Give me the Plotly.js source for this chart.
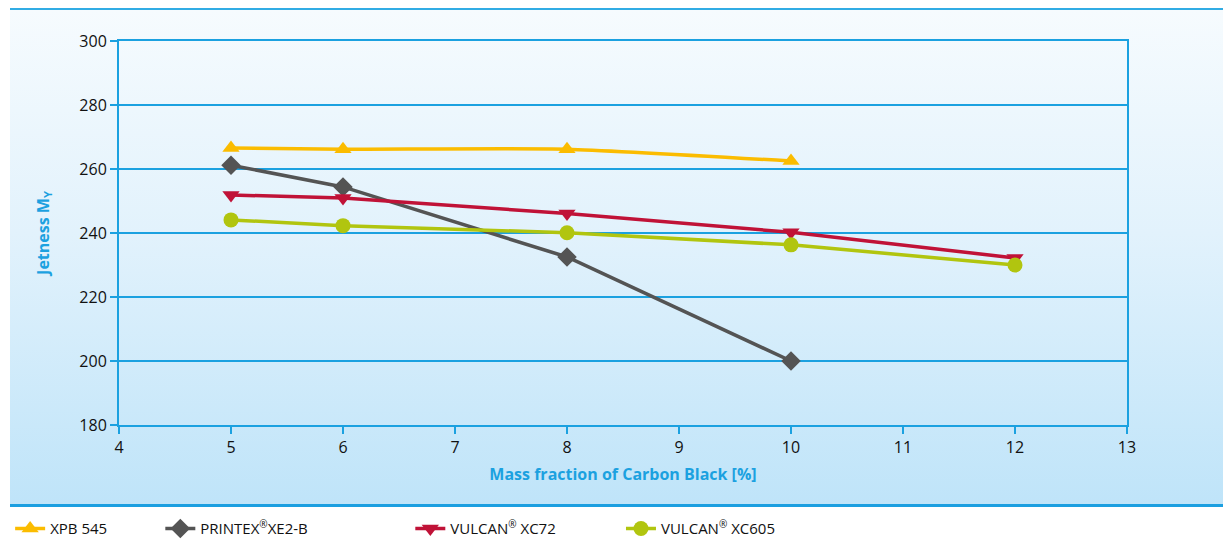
<!DOCTYPE html>
<html>
<head>
<meta charset="utf-8">
<script src="https://cdn.plot.ly/plotly-3.0.1.min.js"></script>
<style>
  body { margin: 0; background: #fff; }
  #wrap { position: relative; width: 1223px; height: 539px; overflow: hidden; }
  #panel {
    position: absolute; left: 10px; top: 8px; width: 1213px; height: 494px;
    background: linear-gradient(to bottom, #f6fbfe 0%, #e2f2fc 45%, #bfe4f9 100%);
    border-top: 2px solid #31ace4; border-bottom: 3px solid #1b9fe0;
  }
  #chart { position: absolute; left: 0; top: 0; width: 1223px; height: 539px; }
</style>
</head>
<body>
<div id="wrap">
  <div id="panel"></div>
  <div id="chart"></div>
</div>
<script>
const BLUE = '#1ba1e0';
const FONT = 'Open Sans, Noto Sans, sans-serif';

const xpbX = [5, 6, 8, 10];
const xpbY = [266.6, 266.2, 266.2, 262.5];

const printexX = [5, 6, 8, 10];
const printexY = [261.2, 254.4, 232.5, 200];

const xc72X = [5, 6, 8, 10, 12];
const xc72Y = [251.9, 250.9, 246.1, 240.2, 232.2];

const xc605X = [5, 6, 8, 10, 12];
const xc605Y = [244.1, 242.3, 240.1, 236.3, 230];

const REG = '<sup><span style="font-size:10px">®</span></sup>';
const names = ['XPB 545', 'PRINTEX' + REG + 'XE2-B', 'VULCAN' + REG + ' XC72', 'VULCAN' + REG + ' XC605'];
// legend left edges, paper fraction of plot width (negative = left of axis)
const legendX = [-0.108, 0.041, 0.289, 0.498];

const traces = [
    {
        x: xpbX, y: xpbY, name: names[0], legend: 'legend',
        type: 'scatter', mode: 'lines+markers',
        line: { color: '#fbbc00', width: 3.5, shape: 'spline', smoothing: 0.5 },
        marker: { symbol: 'triangle-up', size: 15, color: '#fbbc00' }
    },
    {
        x: printexX, y: printexY, name: names[1], legend: 'legend2',
        type: 'scatter', mode: 'lines+markers',
        line: { color: '#545454', width: 3.5 },
        marker: { symbol: 'diamond', size: 15, color: '#545454' }
    },
    {
        x: xc72X, y: xc72Y, name: names[2], legend: 'legend3',
        type: 'scatter', mode: 'lines+markers',
        line: { color: '#c01237', width: 3.5 },
        marker: { symbol: 'triangle-down', size: 15, color: '#c01237' }
    },
    {
        x: xc605X, y: xc605Y, name: names[3], legend: 'legend4',
        type: 'scatter', mode: 'lines+markers',
        line: { color: '#b1c50f', width: 3.5 },
        marker: { symbol: 'circle', size: 15, color: '#b1c50f' }
    }
];

function leg(x) {
    return {
        x: x, y: -0.27, xref: 'paper', yref: 'paper', xanchor: 'left', yanchor: 'middle',
        orientation: 'h', bgcolor: 'rgba(0,0,0,0)', borderwidth: 0,
        font: { family: FONT, size: 15, color: '#111' }
    };
}

const layout = {
    width: 1223, height: 539,
    paper_bgcolor: 'rgba(0,0,0,0)', plot_bgcolor: 'rgba(0,0,0,0)',
    margin: { l: 119, r: 96, t: 41, b: 114, autoexpand: false },
    font: { family: FONT, size: 15, color: '#111' },
    showlegend: true,
    legend: leg(legendX[0]),
    legend2: leg(legendX[1]),
    legend3: leg(legendX[2]),
    legend4: leg(legendX[3]),
    xaxis: {
        range: [4, 13], dtick: 1, tick0: 4,
        showline: true, linecolor: BLUE, linewidth: 2, mirror: true,
        showgrid: false, zeroline: false,
        ticks: 'outside', ticklen: 7, tickcolor: BLUE, tickwidth: 2,
        tickfont: { family: FONT, size: 16, color: '#111' },
        title: { text: '<b>Mass fraction of Carbon Black [%]</b>', standoff: 12,
                 font: { family: FONT, size: 16, color: BLUE } },
        fixedrange: true
    },
    yaxis: {
        range: [180, 300], dtick: 20,
        showline: true, linecolor: BLUE, linewidth: 2, mirror: true,
        showgrid: true, gridcolor: BLUE, gridwidth: 1.5, zeroline: false,
        ticks: 'outside', ticklen: 7, tickcolor: BLUE, tickwidth: 2,
        tickfont: { family: FONT, size: 16, color: '#111' },
        title: { text: '<b>Jetness M<sub>Y</sub></b>', standoff: 26,
                 font: { family: FONT, size: 16, color: BLUE } },
        fixedrange: true
    }
};

Plotly.newPlot('chart', traces, layout, { displayModeBar: false, staticPlot: true });
</script>
</body>
</html>
